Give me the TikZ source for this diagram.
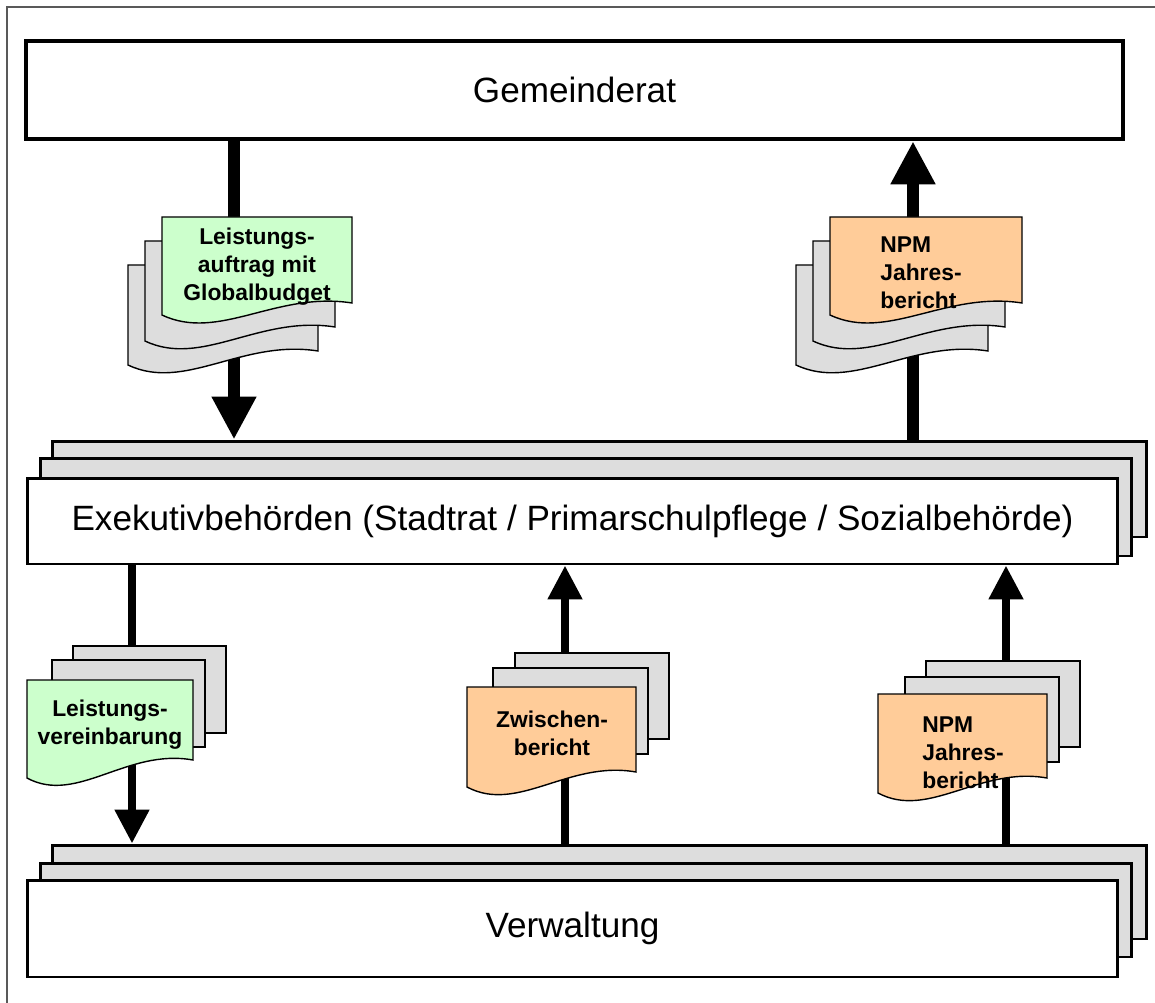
\documentclass[tikz,border=0pt]{standalone}
\usepackage{fontspec}
\setmainfont{Liberation Sans}
\usepackage{tikz}
\usepackage{xcolor}
\usetikzlibrary{shapes,arrows.meta,positioning,calc}

\definecolor{pagegray}{HTML}{DDDDDD}
\definecolor{docgreen}{HTML}{CCFFCC}
\definecolor{docorange}{HTML}{FFCC99}

\tikzset{
  pics/wavepage/.style n args={4}{code={
    \draw[docline, fill=#4] (0,0) -- (#1,0) -- (#1,#2-#3)
      .. controls (0.6*#1,#2-#3-12) and (0.3*#1,#2+27) .. (0,#2) -- cycle;
  }}
}

\begin{document}
\begin{tikzpicture}[x=0.02cm, y=-0.02cm,
    box/.style={rectangle, draw, line width=1.7pt, fill=white, font=\fontsize{20}{24}\selectfont},
    layer/.style={rectangle, draw, line width=1.7pt, fill=pagegray},
    docline/.style={draw, line width=0.8pt},
    doctext/.style={inner sep=0pt, font=\bfseries\fontsize{13}{16}\selectfont},
    bigarrow/.style={line width=0.25cm, -{Triangle[width=0.84cm, length=0.86cm]}},
    smallarrow/.style={line width=0.16cm, -{Triangle[width=0.66cm, length=0.68cm]}}]
	\useasboundingbox (0,0) rectangle (1155,1003);
	\draw[gray!70!black, line width=0.6pt] (7,7) rectangle (1200,1050);

	% Gemeinderat
	\node[box, line width=2.6pt, minimum width=21.94cm, minimum height=1.96cm] (gr) at (574.5,90) {Gemeinderat};

	% Exekutive (Stapel)
	\node[layer, minimum width=21.9cm, minimum height=1.92cm] (ex3) at (599.5,489) {};
	\node[layer, minimum width=21.84cm, minimum height=1.96cm] (ex2) at (586,507) {};
	\node[box, minimum width=21.82cm, minimum height=1.72cm] (ex) at (572.5,521) {Exekutivbehörden (Stadtrat / Primarschulpflege / Sozialbehörde)};

	% Verwaltung (Stapel)
	\node[layer, minimum width=21.9cm, minimum height=1.88cm] (vw3) at (599.5,892) {};
	\node[layer, minimum width=21.84cm, minimum height=1.88cm] (vw2) at (586,910) {};
	\node[box, minimum width=21.82cm, minimum height=1.94cm] (vw) at (572.5,928.5) {Verwaltung};

	% Pfeile
	\coordinate (xa) at (234,0);
	\coordinate (xb) at (913,0);
	\coordinate (xc) at (132,0);
	\coordinate (xd) at (565,0);
	\coordinate (xe) at (1006,0);
	\draw[bigarrow] (gr.south -| xa) -- (ex3.north -| xa);
	\draw[bigarrow] (ex3.north -| xb) -- (gr.south -| xb);
	\draw[smallarrow] (ex.south -| xc) -- (vw3.north -| xc);
	\draw[smallarrow] (vw3.north -| xd) -- (ex.south -| xd);
	\draw[smallarrow] (vw3.north -| xe) -- (ex.south -| xe);

	% Dokumente oben
	\pic at (128,265) {wavepage={190}{100}{14}{pagegray}};
	\pic at (145,241) {wavepage={190}{100}{14}{pagegray}};
	\pic at (162,217) {wavepage={190}{98}{12}{docgreen}};
	\node[doctext, align=center] (auftrag) at (257,267) {Leistungs-\\auftrag mit\\Globalbudget};

	\pic at (796,265) {wavepage={192}{100}{14}{pagegray}};
	\pic at (813,241) {wavepage={192}{100}{14}{pagegray}};
	\pic at (830,217) {wavepage={192}{98}{12}{docorange}};
	\node[doctext, align=left, anchor=west] (jb1) at (880,273) {NPM\\Jahres-\\bericht};

	% Dokumente unten
	\draw[docline, fill=pagegray] (73,646) rectangle (226,733);
	\draw[docline, fill=pagegray] (52,660) rectangle (205,747);
	\pic at (27,680) {wavepage={166}{98}{18}{docgreen}};
	\node[doctext, align=center] (vereinb) at (110,725) {Leistungs-\\vereinbarung};

	\draw[docline, fill=pagegray] (515,653) rectangle (669,739);
	\draw[docline, fill=pagegray] (493,668) rectangle (648,754);
	\pic at (467,687) {wavepage={169}{100}{15}{docorange}};
	\node[doctext, align=center] (zwb) at (552,733) {Zwischen-\\bericht};

	\draw[docline, fill=pagegray] (926,661) rectangle (1080,747);
	\draw[docline, fill=pagegray] (905,677) rectangle (1059,762);
	\pic at (878,694) {wavepage={169}{99}{15}{docorange}};
	\node[doctext, align=left, anchor=west] (jb2) at (922,753) {NPM\\Jahres-\\bericht};
\end{tikzpicture}
\end{document}
